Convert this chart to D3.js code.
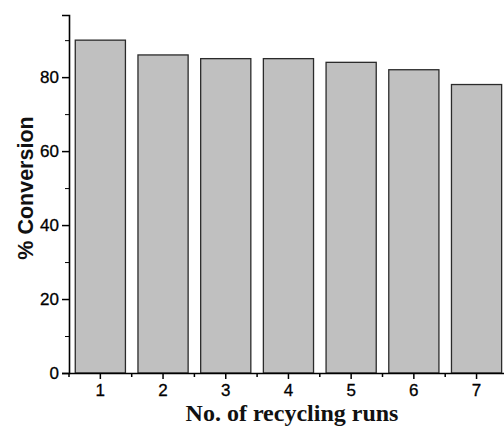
<!DOCTYPE html>
<html>
<head>
<meta charset="utf-8">
<script src="https://cdn.jsdelivr.net/npm/d3@7"></script>
<style>
  body { margin: 0; background: #fff; }
  svg { display: block; }
</style>
</head>
<body>
<div class="chart"></div>
<script>

// data
var runs = ["1", "2", "3", "4", "5", "6", "7"];
var conversion = [90, 86, 85, 85, 84, 82, 78];
var yTicks = [0, 20, 40, 60, 80];
var yMinor = [10, 30, 50, 70, 90];

var width = 504, height = 427;
var margin = {top: 15, left: 69, bottom: 54};
var y0 = height - margin.bottom;   // x axis line

var svg = d3.select(".chart")
	.append("svg")
	.attr("width", width)
	.attr("height", height);

// band for each run, last one runs off the right edge like the original
var x = d3.scaleBand()
	.domain(runs)
	.range([margin.left, margin.left + 62.7 * runs.length])
	.paddingInner(0.2)
	.paddingOuter(0.1);

var y = d3.scaleLinear()
	.domain([0, 96.8])
	.range([y0, margin.top]);

var bars = runs.map(function(r, i) { return {run: r, value: conversion[i]}; });

svg.selectAll(".bar")
	.data(bars)
	.enter().append("rect")
	.attr("class", "bar")
	.attr("x", function(d) { return x(d.run); })
	.attr("y", function(d) { return y(d.value); })
	.attr("width", x.bandwidth())
	.attr("height", function(d) { return y0 - y(d.value); })
	.attr("fill", "#c0c0c0")
	.attr("stroke", "#2b2b2b")
	.attr("stroke-width", 1.3);

// y axis
var yAxis = svg.append("g")
	.attr("transform", "translate(" + margin.left + ",0)")
	.call(d3.axisLeft(y).tickValues(yTicks).tickSize(7).tickPadding(3).tickFormat(d3.format("d")));

svg.append("g")
	.attr("transform", "translate(" + margin.left + ",0)")
	.call(d3.axisLeft(y).tickValues(yMinor).tickSize(4).tickFormat(""))
	.select(".domain").remove();

// x axis
var xAxis = svg.append("g")
	.attr("transform", "translate(0," + y0 + ")")
	.call(d3.axisBottom(x).tickSize(6).tickPadding(5).tickSizeOuter(0));

// minor ticks between the bars
var step = x.step();
var gaps = runs.map(function(r) { return x(r) - step * 0.1; });
svg.append("g").selectAll("line")
	.data(gaps)
	.enter().append("line")
	.attr("x1", function(d) { return d; })
	.attr("x2", function(d) { return d; })
	.attr("y1", y0)
	.attr("y2", y0 + 4)
	.attr("stroke", "#000")
	.attr("stroke-width", 1.5);

[yAxis, xAxis].forEach(function(g) {
	g.selectAll(".domain").attr("stroke", "#000").attr("stroke-width", 1.6);
	g.selectAll(".tick line").attr("stroke", "#000").attr("stroke-width", 1.5);
	g.selectAll("text")
		.attr("fill", "#000")
		.attr("stroke", "#000")
		.attr("stroke-width", 0.3)
		.style("font-family", "'Liberation Sans', Arial, sans-serif")
		.style("font-size", "17px");
});

// x axis domain extends to the edge
xAxis.select(".domain").attr("d", "M" + margin.left + ",0.5H" + width);

svg.append("text")
	.attr("transform", "translate(33,188) rotate(-90)")
	.attr("text-anchor", "middle")
	.style("font-family", "'Liberation Sans', Arial, sans-serif")
	.style("font-weight", "bold")
	.style("font-size", "21.5px")
	.attr("fill", "#111")
	.text("% Conversion");

svg.append("text")
	.attr("x", 292)
	.attr("y", 421)
	.attr("text-anchor", "middle")
	.style("font-family", "'Liberation Serif', 'Times New Roman', serif")
	.style("font-weight", "bold")
	.style("font-size", "24px")
	.attr("fill", "#111")
	.text("No. of recycling runs");

</script>
</body>
</html>
